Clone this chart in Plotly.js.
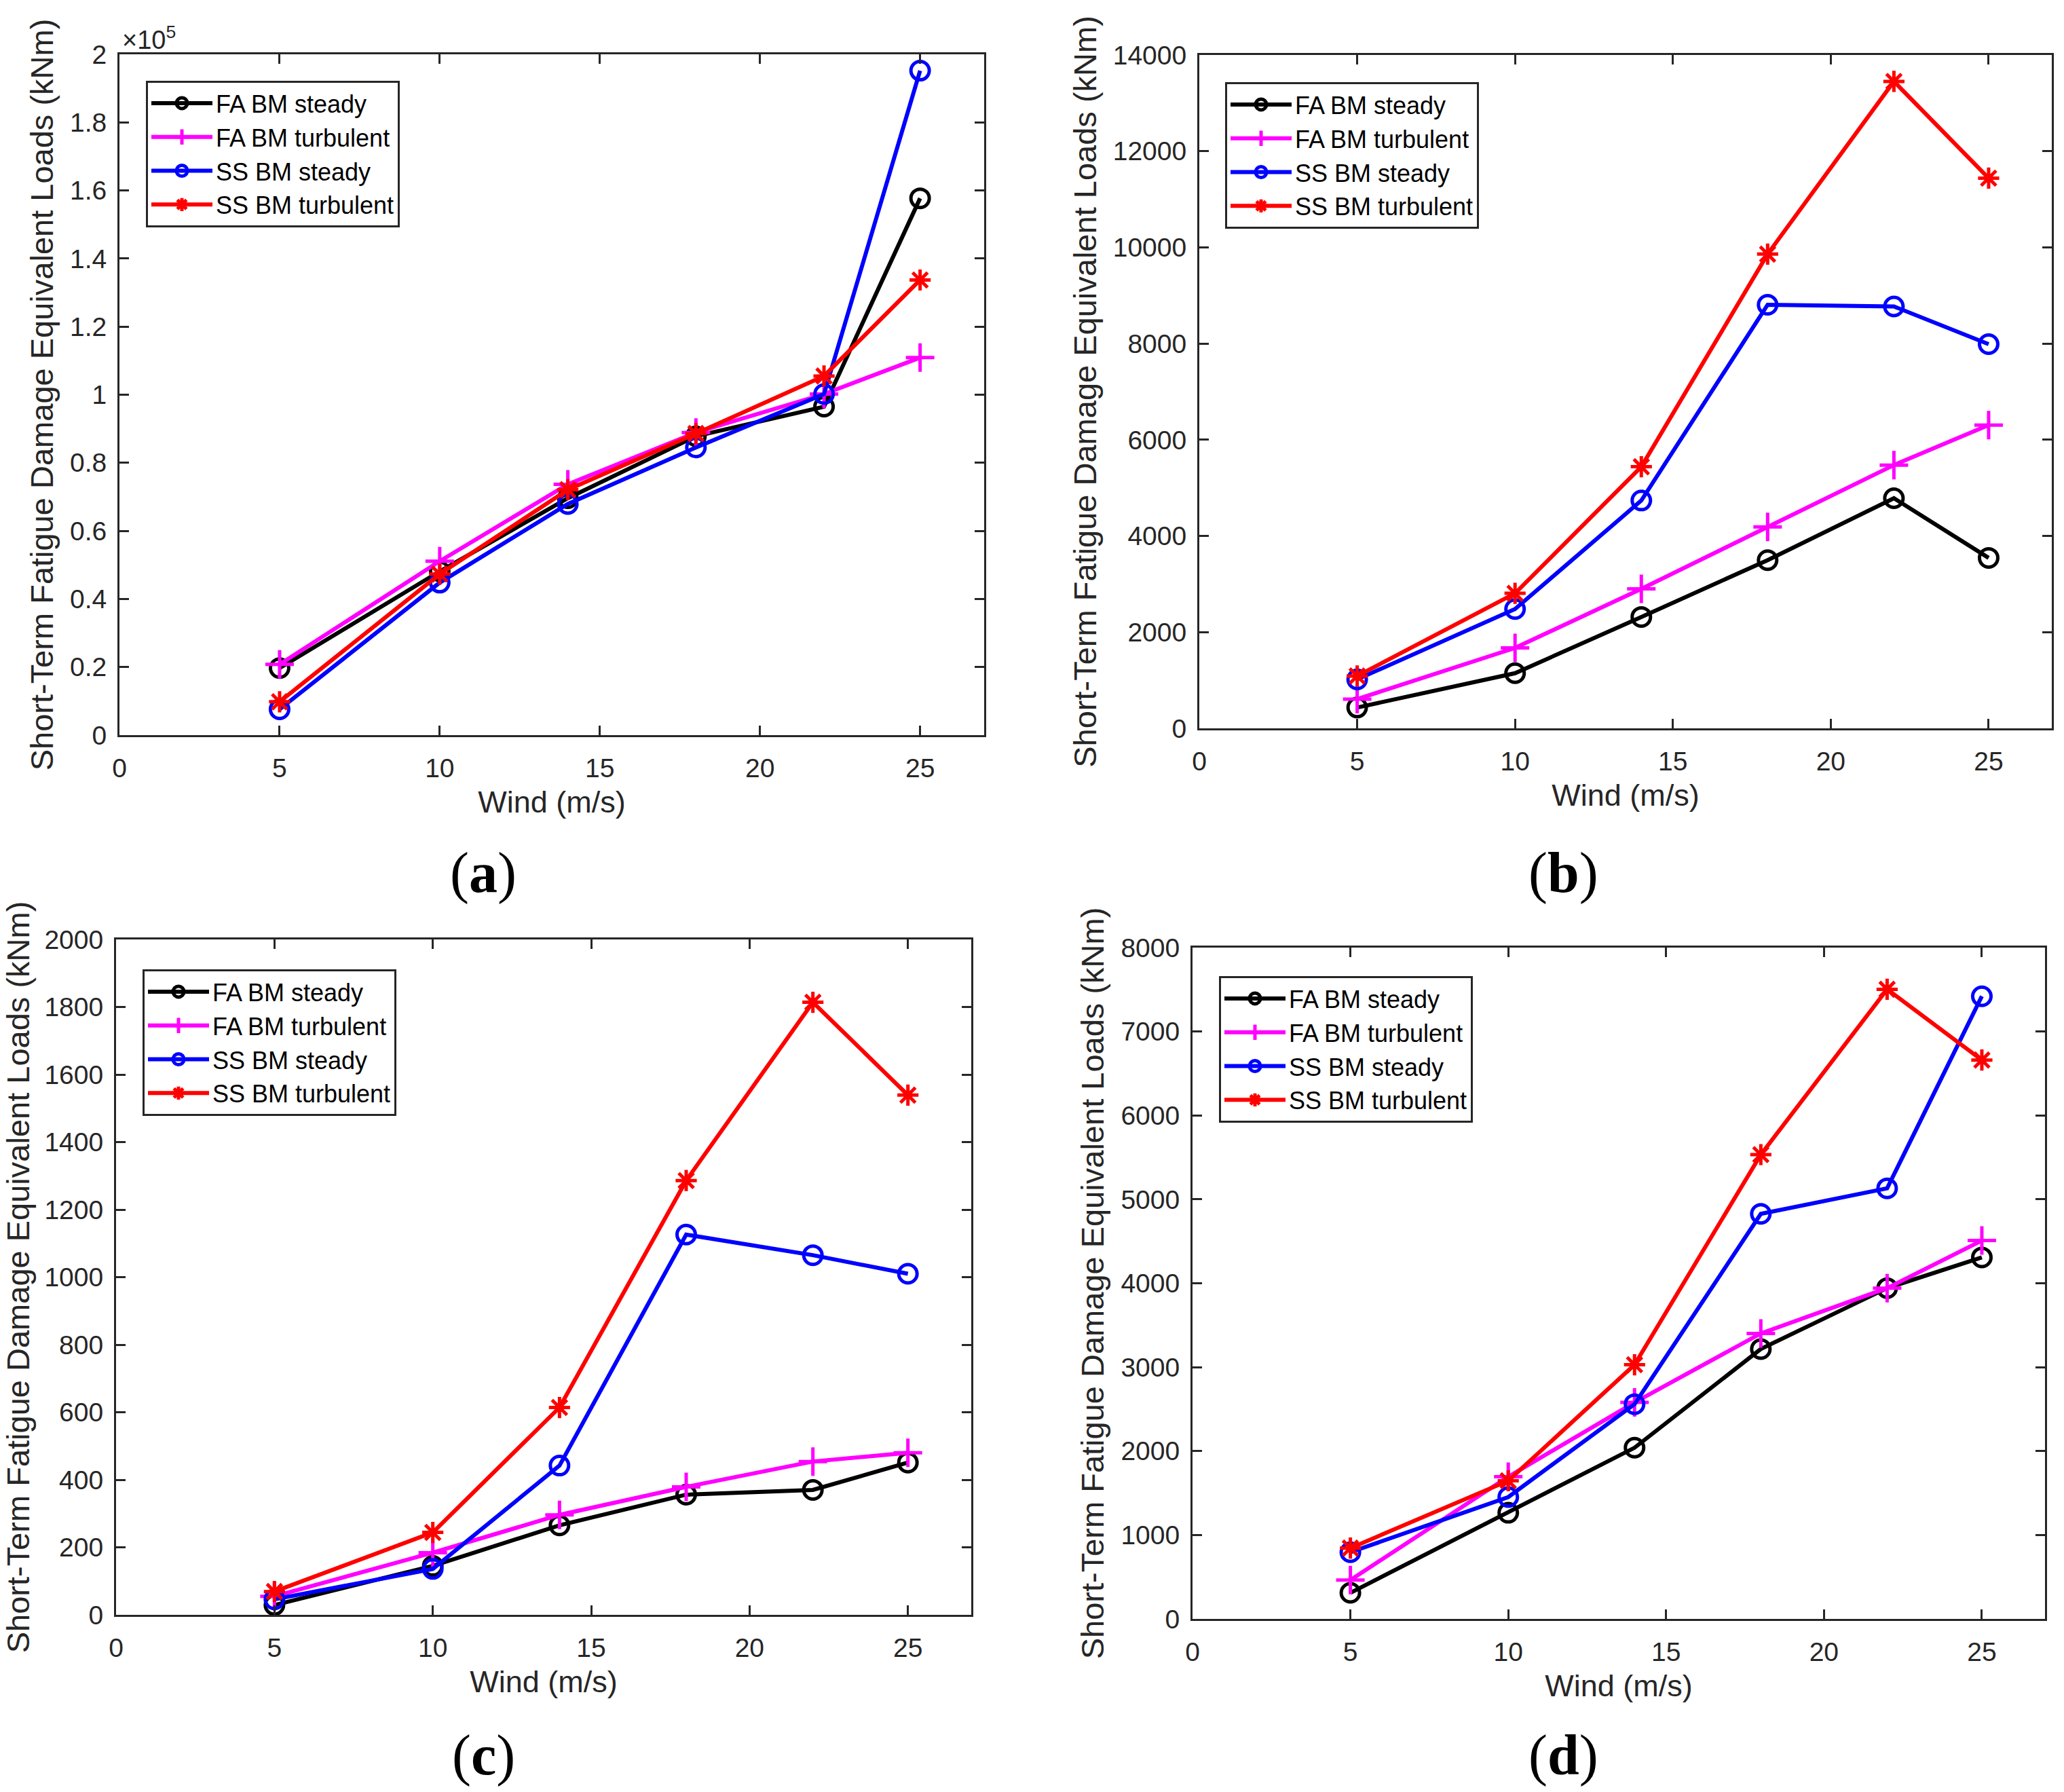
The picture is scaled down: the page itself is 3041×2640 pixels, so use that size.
<!DOCTYPE html>
<html>
<head>
<meta charset="utf-8">
<script src="https://cdn.plot.ly/plotly-3.0.1.min.js"></script>
<style>
  html, body { margin: 0; padding: 0; background: #fff; }
  #chart { width: 3041px; height: 2640px; }
</style>
</head>
<body>
<div id="chart"></div>
<script>
'use strict';

// wind speeds (m/s), shared by every panel
const WIND = [5, 10, 14, 18, 22, 25];
const SERIES_NAMES = ['FA BM steady', 'FA BM turbulent', 'SS BM steady', 'SS BM turbulent'];

// (a) values in kNm (axis shows them x10^5)
const A_FA_STEADY = [19700, 48100, 69600, 87800, 96500, 157700];
const A_FA_TURB   = [20800, 51100, 73700, 88900, 100200, 110900];
const A_SS_STEADY = [7600, 44800, 67900, 84500, 100200, 195200];
const A_SS_TURB   = [9800, 47300, 72100, 88600, 105500, 133700];

// (b)
const B_FA_STEADY = [433, 1146, 2316, 3497, 4784, 3544];
const B_FA_TURB   = [608, 1672, 2900, 4187, 5474, 6304];
const B_SS_STEADY = [1018, 2480, 4737, 8807, 8772, 7988];
const B_SS_TURB   = [1088, 2807, 5439, 9860, 13450, 11439];

// (c)
const C_FA_STEADY = [29, 145, 265, 356, 370, 451];
const C_FA_TURB   = [55, 184, 296, 379, 454, 480];
const C_SS_STEADY = [46, 136, 442, 1126, 1065, 1010];
const C_SS_TURB   = [69, 244, 614, 1286, 1814, 1539];

// (d)
const D_FA_STEADY = [311, 1265, 2040, 3216, 3942, 4308];
const D_FA_TURB   = [463, 1694, 2580, 3402, 3942, 4509];
const D_SS_STEADY = [795, 1452, 2559, 4827, 5131, 7420];
const D_SS_TURB   = [844, 1646, 3029, 5533, 7503, 6660];

// tick labels
const X_TICKS = [0, 5, 10, 15, 20, 25];
const A_YTICKS = [0, 20000, 40000, 60000, 80000, 100000, 120000, 140000, 160000, 180000, 200000];
const A_YTEXT  = ['0', '0.2', '0.4', '0.6', '0.8', '1', '1.2', '1.4', '1.6', '1.8', '2'];
const B_YTICKS = [0, 2000, 4000, 6000, 8000, 10000, 12000, 14000];
const C_YTICKS = [0, 200, 400, 600, 800, 1000, 1200, 1400, 1600, 1800, 2000];
const D_YTICKS = [0, 1000, 2000, 3000, 4000, 5000, 6000, 7000, 8000];
const PANEL_LETTERS = ['a', 'b', 'c', 'd'];

const W = 3041, H = 2640;
const INK = '#262626';
const FONT = 'Liberation Sans, Arial, sans-serif';
const YTITLE = 'Short-Term Fatigue Damage Equivalent Loads (kNm)';

const STYLES = [
    { color: '#000000', symbol: 'circle-open', size: 27 },
    { color: '#ff00ff', symbol: 'cross-thin-open', size: 30 },
    { color: '#0000ff', symbol: 'circle-open', size: 27 },
    { color: '#ff0000', symbol: 'asterisk-open', size: 26 },
];

// pixel boxes of each axes [left, top, right, bottom], legend corner, panel label centre
const PANELS = [
    { box: [176, 80, 1450, 1083], leg: [215, 119], tag: [712, 1286], ys: [A_FA_STEADY, A_FA_TURB, A_SS_STEADY, A_SS_TURB], yt: A_YTICKS, ytext: A_YTEXT, ymax: 200000 },
    { box: [1767, 81, 3023, 1073], leg: [1805, 121], tag: [2303, 1286], ys: [B_FA_STEADY, B_FA_TURB, B_SS_STEADY, B_SS_TURB], yt: B_YTICKS, ymax: 14000 },
    { box: [171, 1384, 1431, 2379], leg: [210, 1428], tag: [712, 2586], ys: [C_FA_STEADY, C_FA_TURB, C_SS_STEADY, C_SS_TURB], yt: C_YTICKS, ymax: 2000 },
    { box: [1757, 1396, 3013, 2385], leg: [1796, 1438], tag: [2303, 2586], ys: [D_FA_STEADY, D_FA_TURB, D_SS_STEADY, D_SS_TURB], yt: D_YTICKS, ymax: 8000 },
];

const px = x => x / W;
const py = y => 1 - y / H;

function axisBase() {
    return {
        showgrid: false, zeroline: false, showline: true, linecolor: INK, linewidth: 3,
        mirror: 'allticks', ticks: 'inside', ticklen: 14, tickwidth: 3, tickcolor: INK,
        tickfont: { family: FONT, size: 39, color: INK }, tickformat: 'd',
    };
}

const traces = [];
const layout = {
    width: W, height: H, margin: { l: 0, r: 0, t: 0, b: 0 },
    paper_bgcolor: '#fff', plot_bgcolor: '#fff',
    font: { family: FONT, color: INK },
    annotations: [], showlegend: true,
};

PANELS.forEach((p, i) => {
    const n = i === 0 ? '' : String(i + 1);
    const legName = 'legend' + n;
    p.ys.forEach((y, k) => {
        const s = STYLES[k];
        traces.push({
            x: WIND, y, type: 'scatter', mode: 'lines+markers', name: SERIES_NAMES[k],
            xaxis: 'x' + n, yaxis: 'y' + n, legend: legName,
            line: { color: s.color, width: 6 },
            marker: { symbol: s.symbol, size: s.size, color: s.color, line: { color: s.color, width: 5 } },
        });
    });

    const [l, t, r, b] = p.box;
    const yax = Object.assign(axisBase(), {
        domain: [py(b), py(t)], range: [0, p.ymax], anchor: 'x' + n,
        tickvals: p.yt, ticklabelstandoff: 8,
        title: { text: YTITLE, font: { family: FONT, size: 47, color: INK }, standoff: 10 },
    });
    if (p.ytext) yax.ticktext = p.ytext;
    layout['yaxis' + n] = yax;
    layout['xaxis' + n] = Object.assign(axisBase(), {
        domain: [px(l), px(r)], range: [0, 27], anchor: 'y' + n,
        tickvals: X_TICKS, ticklabelstandoff: 12,
        title: { text: 'Wind (m/s)', font: { family: FONT, size: 45, color: INK }, standoff: 14 },
    });
    layout[legName] = {
        x: px(p.leg[0]), y: py(p.leg[1]), xanchor: 'left', yanchor: 'top',
        bgcolor: '#fff', bordercolor: INK, borderwidth: 3,
        font: { family: FONT, size: 36, color: '#000' }, itemwidth: 90,
        tracegroupgap: 0, traceorder: 'normal',
    };
    layout.annotations.push({
        xref: 'paper', yref: 'paper', x: px(p.tag[0]), y: py(p.tag[1]),
        xanchor: 'center', yanchor: 'middle', showarrow: false,
        text: '(<b>' + PANEL_LETTERS[i] + '</b>)',
        font: { family: 'Liberation Serif, Times New Roman, serif', size: 84, color: '#000' },
    });
});

// exponent label of panel (a)
layout.annotations.push({
    xref: 'paper', yref: 'paper', x: px(178), y: py(82), xanchor: 'left', yanchor: 'bottom',
    showarrow: false, text: '\u00d710<sup>5</sup>', font: { family: FONT, size: 38, color: INK },
});

Plotly.newPlot('chart', traces, layout, { staticPlot: true });
</script>
</body>
</html>
